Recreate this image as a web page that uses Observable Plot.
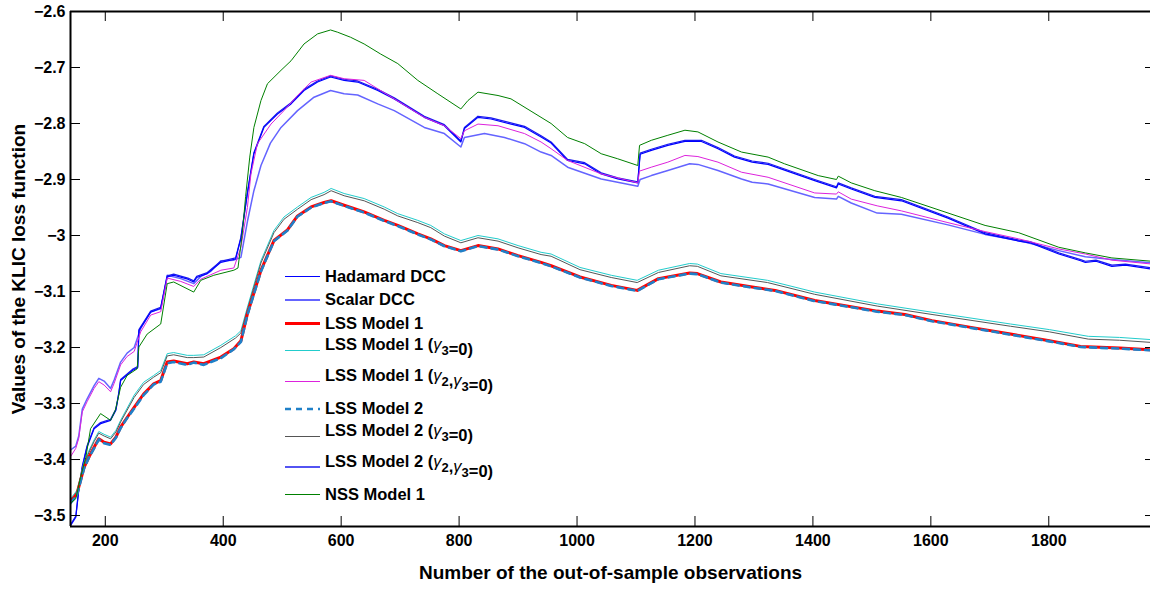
<!DOCTYPE html>
<html>
<head>
<meta charset="utf-8">
<script src="https://cdn.jsdelivr.net/npm/d3@7"></script>
<script src="https://cdn.jsdelivr.net/npm/@observablehq/plot@0.6"></script>
<style>
  html, body { margin: 0; padding: 0; background: #fff; }
  #chart { width: 1150px; height: 599px; overflow: hidden; }
</style>
</head>
<body>
<div id="chart"></div>
<script>
// ---------- data ----------
const xTicks = [200, 400, 600, 800, 1000, 1200, 1400, 1600, 1800];
const yTicks = [-3.5, -3.4, -3.3, -3.2, -3.1, -3.0, -2.9, -2.8, -2.7, -2.6];
const xDomain = [141, 1972.5];
const yDomain = [-3.5196, -2.6];

const seriesNames = [
  "Hadamard DCC", "Scalar DCC", "LSS Model 1", "LSS Model 1 (γ_3=0)",
  "LSS Model 1 (γ_2,γ_3=0)", "LSS Model 2", "LSS Model 2 (γ_3=0)",
  "LSS Model 2 (γ_2,γ_3=0)", "NSS Model 1"
];
const seriesColors = ["#0000ff", "#6464ff", "#ff0000", "#22cccc", "#dd22dd", "#1f80c8", "#555555", "#1a1aee", "#008000"];
const seriesWidths = [1.2, 1.5, 3, 1, 1, 2.6, 1, 1.2, 1];
const legendWidths = [1, 2, 3, 1, 1, 2.6, 1, 1.3, 1];
const seriesDash = [null, null, null, null, null, "6,5", null, null, null];

const hadamardDCC = [[141,-3.518],[150,-3.503],[155,-3.455],[161,-3.414],[169,-3.378],[181,-3.345],[192,-3.336],[209,-3.330],[218,-3.312],[223,-3.282],[226,-3.259],[246,-3.241],[255,-3.236],[257,-3.170],[277,-3.137],[294,-3.130],[305,-3.074],[316,-3.071],[340,-3.078],[350,-3.083],[355,-3.075],[373,-3.068],[396,-3.048],[421,-3.042],[430,-3.005],[441,-2.925],[452,-2.854],[469,-2.807],[492,-2.783],[515,-2.765],[537,-2.741],[560,-2.726],[582,-2.717],[605,-2.723],[628,-2.726],[662,-2.741],[690,-2.756],[741,-2.789],[775,-2.804],[803,-2.833],[809,-2.809],[832,-2.789],[854,-2.792],[911,-2.807],[939,-2.824],[956,-2.835],[984,-2.866],[1013,-2.872],[1041,-2.890],[1069,-2.899],[1103,-2.906],[1107,-2.855],[1126,-2.848],[1154,-2.839],[1183,-2.832],[1211,-2.832],[1239,-2.845],[1267,-2.860],[1297,-2.869],[1324,-2.873],[1403,-2.902],[1440,-2.915],[1443,-2.908],[1465,-2.917],[1505,-2.932],[1550,-2.938],[1629,-2.969],[1692,-2.997],[1749,-3.010],[1768,-3.013],[1817,-3.033],[1854,-3.045],[1862,-3.048],[1880,-3.046],[1907,-3.055],[1930,-3.053],[1975,-3.060]];

const scalarDCC = [[141,-3.383],[150,-3.376],[155,-3.358],[161,-3.310],[169,-3.292],[181,-3.268],[189,-3.255],[198,-3.260],[209,-3.273],[215,-3.258],[226,-3.226],[237,-3.210],[249,-3.200],[260,-3.166],[277,-3.136],[294,-3.131],[305,-3.071],[328,-3.077],[350,-3.086],[362,-3.073],[379,-3.064],[396,-3.045],[418,-3.044],[430,-3.039],[441,-2.975],[452,-2.920],[464,-2.875],[480,-2.835],[498,-2.807],[526,-2.777],[554,-2.753],[582,-2.741],[605,-2.747],[628,-2.749],[662,-2.765],[690,-2.777],[741,-2.807],[775,-2.818],[803,-2.842],[809,-2.825],[843,-2.818],[877,-2.825],[911,-2.836],[939,-2.851],[956,-2.857],[984,-2.878],[1041,-2.899],[1103,-2.912],[1107,-2.900],[1126,-2.893],[1154,-2.884],[1191,-2.872],[1205,-2.873],[1239,-2.884],[1279,-2.899],[1297,-2.905],[1324,-2.908],[1403,-2.932],[1440,-2.935],[1443,-2.930],[1465,-2.942],[1509,-2.960],[1550,-2.962],[1629,-2.981],[1692,-2.998],[1749,-3.009],[1817,-3.027],[1862,-3.038],[1907,-3.043],[1975,-3.049]];

const lssModel1 = [[141,-3.476],[152,-3.461],[164,-3.414],[172,-3.396],[181,-3.378],[189,-3.363],[198,-3.369],[209,-3.372],[218,-3.360],[226,-3.342],[237,-3.325],[249,-3.307],[265,-3.283],[282,-3.265],[294,-3.259],[305,-3.226],[316,-3.224],[339,-3.229],[350,-3.226],[367,-3.229],[396,-3.217],[418,-3.202],[430,-3.188],[441,-3.140],[464,-3.062],[486,-3.009],[509,-2.990],[526,-2.965],[549,-2.949],[571,-2.941],[583,-2.938],[605,-2.946],[639,-2.958],[673,-2.973],[696,-2.982],[730,-2.997],[752,-3.006],[775,-3.018],[803,-3.027],[832,-3.018],[866,-3.024],[900,-3.036],[939,-3.048],[956,-3.054],[1005,-3.074],[1058,-3.089],[1102,-3.098],[1138,-3.077],[1191,-3.067],[1204,-3.068],[1244,-3.083],[1297,-3.092],[1336,-3.098],[1403,-3.116],[1509,-3.135],[1556,-3.141],[1602,-3.152],[1668,-3.164],[1735,-3.176],[1801,-3.188],[1854,-3.198],[1920,-3.201],[1975,-3.204]];

const lssModel1g3 = [[141,-3.470],[152,-3.455],[164,-3.405],[172,-3.385],[181,-3.365],[189,-3.350],[198,-3.355],[209,-3.360],[218,-3.348],[226,-3.330],[249,-3.285],[265,-3.262],[282,-3.250],[294,-3.241],[305,-3.211],[316,-3.209],[339,-3.214],[350,-3.214],[367,-3.213],[396,-3.196],[421,-3.179],[430,-3.170],[441,-3.128],[464,-3.045],[486,-2.991],[503,-2.967],[526,-2.949],[549,-2.932],[571,-2.923],[583,-2.916],[605,-2.925],[639,-2.934],[673,-2.949],[696,-2.961],[730,-2.973],[752,-2.982],[775,-2.997],[803,-3.009],[832,-3.000],[866,-3.006],[900,-3.018],[939,-3.030],[956,-3.033],[1005,-3.057],[1058,-3.071],[1102,-3.080],[1138,-3.062],[1191,-3.050],[1204,-3.051],[1244,-3.068],[1323,-3.080],[1403,-3.101],[1509,-3.122],[1602,-3.137],[1735,-3.158],[1801,-3.168],[1867,-3.180],[1920,-3.182],[1975,-3.186]];

const lssModel1g23 = [[141,-3.395],[150,-3.380],[155,-3.362],[161,-3.315],[169,-3.297],[181,-3.273],[189,-3.261],[198,-3.267],[209,-3.279],[215,-3.264],[226,-3.231],[237,-3.216],[249,-3.207],[260,-3.172],[277,-3.142],[294,-3.136],[305,-3.076],[328,-3.082],[350,-3.091],[362,-3.078],[379,-3.070],[396,-3.062],[418,-3.058],[430,-3.021],[441,-2.950],[447,-2.890],[458,-2.836],[481,-2.801],[503,-2.777],[526,-2.750],[549,-2.726],[582,-2.714],[605,-2.720],[639,-2.723],[662,-2.738],[690,-2.756],[741,-2.789],[775,-2.804],[803,-2.827],[809,-2.813],[832,-2.801],[866,-2.804],[911,-2.818],[939,-2.833],[956,-2.845],[984,-2.866],[1041,-2.890],[1103,-2.906],[1106,-2.885],[1126,-2.878],[1154,-2.869],[1183,-2.857],[1205,-2.859],[1239,-2.869],[1279,-2.887],[1324,-2.896],[1403,-2.924],[1440,-2.926],[1443,-2.922],[1465,-2.935],[1509,-2.947],[1550,-2.956],[1629,-2.977],[1692,-2.993],[1749,-3.006],[1817,-3.024],[1862,-3.033],[1907,-3.044],[1975,-3.051]];

const lssModel2 = [[141,-3.478],[152,-3.463],[164,-3.416],[172,-3.397],[181,-3.380],[189,-3.364],[198,-3.371],[209,-3.374],[218,-3.361],[226,-3.344],[237,-3.326],[249,-3.309],[265,-3.285],[282,-3.266],[294,-3.261],[305,-3.228],[316,-3.226],[339,-3.231],[350,-3.227],[367,-3.231],[396,-3.219],[418,-3.203],[430,-3.190],[441,-3.142],[464,-3.064],[486,-3.010],[509,-2.991],[526,-2.966],[549,-2.950],[571,-2.942],[583,-2.939],[605,-2.947],[639,-2.959],[673,-2.974],[696,-2.983],[730,-2.998],[752,-3.007],[775,-3.019],[803,-3.028],[832,-3.019],[866,-3.025],[900,-3.037],[939,-3.049],[956,-3.055],[1005,-3.075],[1058,-3.090],[1102,-3.099],[1138,-3.078],[1191,-3.068],[1204,-3.069],[1244,-3.084],[1297,-3.093],[1336,-3.099],[1403,-3.117],[1509,-3.136],[1556,-3.142],[1602,-3.153],[1668,-3.165],[1735,-3.177],[1801,-3.189],[1854,-3.199],[1920,-3.202],[1975,-3.205]];

const lssModel2g3 = [[141,-3.472],[152,-3.458],[164,-3.408],[172,-3.388],[181,-3.368],[189,-3.353],[198,-3.358],[209,-3.363],[218,-3.351],[226,-3.333],[249,-3.289],[265,-3.266],[282,-3.253],[294,-3.245],[305,-3.215],[316,-3.213],[339,-3.218],[350,-3.218],[367,-3.217],[396,-3.200],[421,-3.183],[430,-3.174],[441,-3.132],[464,-3.049],[486,-2.995],[503,-2.971],[526,-2.953],[549,-2.936],[571,-2.927],[583,-2.920],[605,-2.929],[639,-2.938],[673,-2.953],[696,-2.965],[730,-2.977],[752,-2.986],[775,-3.001],[803,-3.013],[832,-3.004],[866,-3.010],[900,-3.022],[939,-3.034],[956,-3.037],[1005,-3.061],[1058,-3.075],[1102,-3.084],[1138,-3.066],[1191,-3.054],[1204,-3.055],[1244,-3.072],[1323,-3.084],[1403,-3.105],[1509,-3.126],[1602,-3.141],[1735,-3.162],[1801,-3.172],[1867,-3.185],[1920,-3.187],[1975,-3.191]];

const lssModel2g23 = [[141,-3.516],[150,-3.501],[155,-3.453],[161,-3.412],[169,-3.376],[181,-3.343],[192,-3.334],[209,-3.328],[218,-3.310],[223,-3.280],[226,-3.257],[246,-3.239],[255,-3.234],[257,-3.168],[277,-3.135],[294,-3.128],[305,-3.072],[316,-3.069],[340,-3.076],[350,-3.081],[355,-3.073],[373,-3.066],[396,-3.046],[421,-3.040],[430,-3.003],[441,-2.923],[452,-2.852],[469,-2.805],[492,-2.781],[515,-2.763],[537,-2.739],[560,-2.724],[582,-2.715],[605,-2.721],[628,-2.724],[662,-2.739],[690,-2.754],[741,-2.787],[775,-2.802],[803,-2.831],[809,-2.807],[832,-2.787],[854,-2.790],[911,-2.805],[939,-2.822],[956,-2.833],[984,-2.864],[1013,-2.870],[1041,-2.888],[1069,-2.897],[1103,-2.904],[1107,-2.853],[1126,-2.846],[1154,-2.837],[1183,-2.830],[1211,-2.830],[1239,-2.843],[1267,-2.858],[1297,-2.867],[1324,-2.871],[1403,-2.900],[1440,-2.913],[1443,-2.906],[1465,-2.915],[1505,-2.930],[1550,-2.936],[1629,-2.967],[1692,-2.995],[1749,-3.008],[1768,-3.011],[1817,-3.031],[1854,-3.043],[1862,-3.046],[1880,-3.044],[1907,-3.053],[1930,-3.051],[1975,-3.058]];

const nssModel1 = [[141,-3.478],[150,-3.470],[158,-3.432],[167,-3.396],[175,-3.345],[192,-3.318],[209,-3.330],[217,-3.312],[226,-3.271],[237,-3.250],[254,-3.238],[257,-3.199],[271,-3.176],[294,-3.158],[305,-3.086],[316,-3.083],[350,-3.101],[362,-3.080],[384,-3.071],[418,-3.062],[425,-3.058],[432,-3.000],[438,-2.930],[445,-2.860],[452,-2.807],[464,-2.759],[475,-2.729],[498,-2.705],[515,-2.688],[537,-2.658],[560,-2.640],[582,-2.633],[594,-2.637],[616,-2.646],[639,-2.658],[667,-2.676],[696,-2.693],[730,-2.723],[764,-2.747],[803,-2.774],[815,-2.759],[832,-2.744],[866,-2.750],[888,-2.756],[922,-2.778],[956,-2.800],[984,-2.825],[1013,-2.836],[1041,-2.854],[1069,-2.863],[1103,-2.875],[1106,-2.839],[1126,-2.830],[1154,-2.821],[1183,-2.812],[1205,-2.815],[1239,-2.833],[1279,-2.851],[1324,-2.860],[1352,-2.872],[1409,-2.893],[1440,-2.900],[1443,-2.894],[1465,-2.906],[1505,-2.920],[1550,-2.932],[1624,-2.958],[1692,-2.982],[1749,-2.995],[1817,-3.021],[1862,-3.031],[1907,-3.040],[1975,-3.046]];

const seriesData = [hadamardDCC, scalarDCC, lssModel1, lssModel1g3, lssModel1g23, lssModel2, lssModel2g3, lssModel2g23, nssModel1];
// draw order (later = on top)
const drawOrder = [1, 7, 0, 4, 3, 6, 2, 5, 8];

// ---------- chart ----------
const W = 1150, H = 599;
const mL = 70, mR = 0, mT = 11, mB = 73;
const plotW = W - mL - mR, plotH = H - mT - mB;
const FONT = "'Liberation Sans', Arial, Helvetica, sans-serif";

const lineMarks = drawOrder.map(i => Plot.line(seriesData[i], {
  x: d => d[0], y: d => d[1],
  stroke: seriesColors[i], strokeWidth: seriesWidths[i],
  strokeDasharray: seriesDash[i], strokeLinejoin: "round", clip: true
}));

const svg = Plot.plot({
  width: W, height: H,
  marginLeft: mL, marginRight: mR, marginTop: mT, marginBottom: mB,
  style: { fontFamily: FONT, fontSize: "16px", fontWeight: "bold", color: "#000", background: "#fff" },
  x: { domain: xDomain },
  y: { domain: yDomain },
  marks: [
    ...lineMarks,
    Plot.axisX({ ticks: xTicks, tickSize: 0, tickPadding: 8, label: null, tickFormat: d3.format("d") }),
    Plot.axisY({ ticks: yTicks, tickSize: 0, tickPadding: 5, label: null, tickFormat: d3.format(".1~f") }),
    Plot.tickX(xTicks, { x: d => d, insetTop: plotH - 10, stroke: "#000", strokeWidth: 1 }),
    Plot.tickX(xTicks, { x: d => d, insetBottom: plotH - 10, stroke: "#000", strokeWidth: 1 }),
    Plot.tickY(yTicks, { y: d => d, insetRight: plotW - 10, stroke: "#000", strokeWidth: 1 }),
    Plot.tickY(yTicks, { y: d => d, insetLeft: plotW - 5, stroke: "#000", strokeWidth: 1 }),
    Plot.ruleY([yDomain[0]], { stroke: "#000", strokeWidth: 2 }),
    Plot.ruleY([yDomain[1]], { stroke: "#000", strokeWidth: 2 }),
    Plot.ruleX([xDomain[0]], { stroke: "#000", strokeWidth: 2 }),
    Plot.text(["Number of the out-of-sample observations"], {
      text: d => d, frameAnchor: "bottom", dy: 52, fontSize: 19, fontWeight: "bold", fill: "#000"
    }),
    Plot.text(["Values of the KLIC loss function"], {
      text: d => d, frameAnchor: "left", dx: -52, rotate: -90, textAnchor: "middle", lineAnchor: "middle",
      fontSize: 19, fontWeight: "bold", fill: "#000"
    })
  ]
});

// ---------- legend (inside the axes, no box) ----------
const legend = d3.select(svg).append("g")
  .attr("font-family", FONT).attr("font-weight", "bold").attr("font-size", 16.5)
  .attr("text-anchor", "start");
const lgX0 = 285, lgX1 = 320, lgTx = 325;
let rowY = 276;
seriesNames.forEach((name, i) => {
  const hasSub = name.includes("_");
  if (i > 0) {
    const prevSub = seriesNames[i - 1].includes("_");
    rowY += (prevSub ? 15.5 : 11.75) + (hasSub ? 15.5 : 11.75);
  }
  const ly = Math.round(rowY) + (legendWidths[i] % 2 === 1 ? 0.5 : 0);
  legend.append("line")
    .attr("x1", lgX0).attr("x2", lgX1).attr("y1", ly).attr("y2", ly)
    .attr("stroke", seriesColors[i]).attr("stroke-width", legendWidths[i])
    .attr("stroke-dasharray", seriesDash[i]);
  const t = legend.append("text").attr("x", lgTx).attr("y", rowY - (hasSub ? 6 : 0))
    .attr("dy", "0.36em").attr("fill", "#000").attr("text-anchor", "start");
  const parts = name.split(/(γ_\d)/);
  parts.forEach(p => {
    if (!p) return;
    const m = p.match(/^γ_(\d)$/);
    if (m) {
      t.append("tspan").attr("font-weight", "normal").attr("font-style", "italic").text("γ");
      t.append("tspan").attr("dy", 5).attr("font-size", 13).text(m[1]);
      t.append("tspan").attr("dy", -5).text("");
    } else {
      t.append("tspan").text(p);
    }
  });
});

document.getElementById("chart").appendChild(svg);
</script>
</body>
</html>
